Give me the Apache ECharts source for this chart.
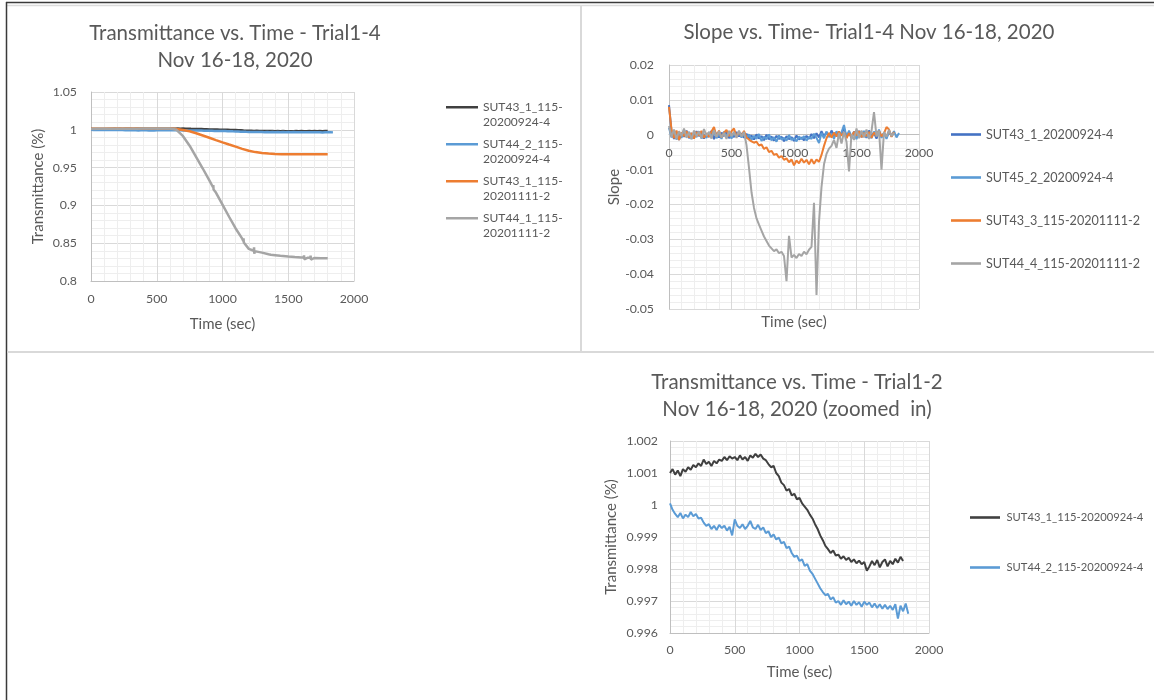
<!DOCTYPE html>
<html><head><meta charset="utf-8">
<script src="https://cdn.jsdelivr.net/npm/echarts@6/dist/echarts.min.js"></script>
<style>html,body{margin:0;padding:0;background:#fff;}#c{width:1154px;height:700px;}</style>
</head><body><div id="c"></div>
<script>
// ---------- DATA ----------
const T20 = [0,20,40,60,80,100,120,140,160,180,
  200,220,240,260,280,300,320,340,360,380,
  400,420,440,460,480,500,520,540,560,580,
  600,620,640,660,680,700,720,740,760,780,
  800,820,840,860,880,900,920,940,960,980,
  1000,1020,1040,1060,1080,1100,1120,1140,1160,1180,
  1200,1220,1240,1260,1280,1300,1320,1340,1360,1380,
  1400,1420,1440,1460,1480,1500,1520,1540,1560,1580,
  1600,1620,1640,1660,1680,1700,1720,1740,1760,1780,
  1800,1820,1840];
const T50 = [0,50,100,150,200,250,300,350,400,450,500,550,600,650,700,750,800,850,900,950,
  1000,1050,1100,1150,1200,1250,1300,1350,1400,1450,1500,1550,1600,1650,1700,1750,1800];

// SUT43_1_115-20200924-4 transmittance
const trans43_1 = [1.00100,1.00112,1.00095,1.00108,1.00090,1.00112,1.00104,1.00118,1.00110,1.00125,
  1.00118,1.00130,1.00122,1.00142,1.00128,1.00135,1.00122,1.00138,1.00130,1.00142,
  1.00138,1.00150,1.00140,1.00152,1.00145,1.00150,1.00140,1.00155,1.00142,1.00150,
  1.00138,1.00155,1.00148,1.00160,1.00150,1.00158,1.00145,1.00140,1.00128,1.00118,
  1.00122,1.00100,1.00090,1.00070,1.00062,1.00045,1.00050,1.00030,1.00035,1.00018,
  1.00022,1.00005,0.99995,0.99985,0.99970,0.99958,0.99940,0.99925,0.99905,0.99890,
  0.99872,0.99862,0.99850,0.99858,0.99842,0.99845,0.99832,0.99840,0.99828,0.99835,
  0.99822,0.99830,0.99818,0.99826,0.99815,0.99822,0.99795,0.99808,0.99825,0.99812,
  0.99828,0.99805,0.99822,0.99830,0.99808,0.99825,0.99815,0.99832,0.99820,0.99838,
  0.99825];
// SUT44_2_115-20200924-4 transmittance
const trans44_2 = [1.00005,0.99985,0.99972,0.99962,0.99975,0.99958,0.99970,0.99962,0.99978,0.99965,
  0.99972,0.99958,0.99960,0.99945,0.99935,0.99940,0.99925,0.99935,0.99922,0.99938,
  0.99928,0.99935,0.99920,0.99932,0.99905,0.99955,0.99935,0.99928,0.99940,0.99925,
  0.99935,0.99950,0.99930,0.99925,0.99938,0.99922,0.99930,0.99912,0.99918,0.99900,
  0.99908,0.99892,0.99898,0.99880,0.99885,0.99865,0.99870,0.99850,0.99838,0.99842,
  0.99825,0.99830,0.99810,0.99815,0.99795,0.99785,0.99770,0.99755,0.99740,0.99728,
  0.99718,0.99722,0.99705,0.99712,0.99695,0.99700,0.99688,0.99702,0.99690,0.99698,
  0.99685,0.99700,0.99688,0.99696,0.99682,0.99698,0.99688,0.99695,0.99680,0.99692,
  0.99678,0.99690,0.99676,0.99688,0.99675,0.99685,0.99672,0.99690,0.99645,0.99685,
  0.99668,0.99692,0.99660];
// SUT43_1_115-20201111-2 transmittance (T50)
const trans43_1b = [1.0014,1.0015,1.0015,1.0016,1.0016,1.0016,1.0017,1.0017,1.0017,1.0017,
  1.0018,1.0018,1.0017,1.0012,0.9998,0.9980,0.9955,0.9925,0.9895,0.9864,
  0.9834,0.9805,0.9777,0.9748,0.9722,0.9705,0.9694,0.9686,0.9681,0.9678,
  0.9676,0.9675,0.9675,0.9675,0.9675,0.9675,0.9676];
// SUT44_1_115-20201111-2 transmittance
const trans44_1T = [0,50,100,150,200,250,300,350,400,450,500,550,600,650,700,750,800,850,900,928,
  930,932,934,950,1000,1050,1100,1150,1158,1160,1162,1200,1238,1240,1242,1244,1300,1350,1368,1370,
  1372,1400,1440,1442,1444,1450,1500,1550,1600,1618,1620,1622,1650,1668,1670,1672,1700,1750,1800];
const trans44_1 = [1.0012,1.0013,1.0013,1.0014,1.0014,1.0015,1.0015,1.0015,1.0016,1.0016,
  1.0016,1.0016,1.0016,1.0000,0.9915,0.9790,0.9640,0.9488,0.9330,0.9240,
  0.9270,0.9210,0.9235,0.9170,0.9010,0.8850,0.8695,0.8560,0.8530,0.8565,
  0.8510,0.8425,0.8400,0.8445,0.8360,0.8395,0.8375,0.8355,0.8348,0.8370,
  0.8328,0.8342,0.8334,0.8352,0.8316,0.8332,0.8325,0.8318,0.8312,0.8310,
  0.8338,0.8288,0.8308,0.8306,0.8336,0.8284,0.8305,0.8302,0.8300];

// Slope series (T20)
const slope43_1 = [0.0085,0.0010,-0.0012,0.0008,-0.0015,0.0005,-0.0006,0.0012,-0.0010,0.0004,
  -0.0008,0.0010,-0.0004,0.0007,-0.0011,0.0003,-0.0006,0.0011,-0.0013,0.0005,
  -0.0008,0.0006,-0.0004,0.0009,-0.0010,0.0002,-0.0007,0.0008,-0.0005,0.0004,
  -0.0009,0.0003,-0.0012,-0.0002,-0.0014,0.0001,-0.0011,-0.0004,-0.0016,0.0000,
  -0.0013,-0.0005,-0.0017,-0.0003,-0.0012,-0.0006,-0.0019,-0.0004,-0.0013,-0.0007,
  -0.0018,-0.0002,-0.0014,-0.0008,-0.0016,-0.0003,-0.0012,0.0002,-0.0010,0.0004,
  -0.0008,0.0010,-0.0005,0.0008,-0.0006,0.0012,-0.0003,0.0006,-0.0009,0.0004,
  0.0018,-0.0005,0.0007,-0.0010,0.0009,-0.0004,0.0011,-0.0007,0.0005,-0.0009,
  0.0012,-0.0003,0.0006,-0.0011,0.0009,-0.0006,0.0004,-0.0008,0.0010,-0.0004,
  0.0006];
const slope45_2 = [0.0020,-0.0008,0.0011,-0.0014,0.0006,-0.0009,0.0013,-0.0005,0.0008,-0.0012,
  0.0004,-0.0007,0.0010,-0.0011,0.0002,-0.0009,0.0007,-0.0004,0.0012,-0.0010,
  0.0003,-0.0012,0.0009,-0.0006,0.0005,-0.0011,0.0008,-0.0003,0.0006,-0.0008,
  0.0004,-0.0010,0.0001,-0.0015,-0.0003,-0.0012,0.0002,-0.0018,-0.0006,-0.0013,
  0.0001,-0.0016,-0.0007,-0.0020,-0.0002,-0.0014,-0.0009,-0.0017,-0.0001,-0.0015,
  -0.0010,-0.0019,-0.0005,-0.0013,-0.0004,-0.0017,-0.0006,-0.0012,0.0003,-0.0009,
  -0.0024,0.0005,-0.0010,0.0009,-0.0006,0.0004,-0.0012,0.0010,-0.0003,0.0007,
  0.0028,-0.0008,0.0012,-0.0005,0.0006,-0.0013,0.0008,-0.0002,0.0011,-0.0007,
  0.0005,-0.0010,0.0009,-0.0004,0.0015,-0.0009,0.0006,-0.0012,0.0008,-0.0003,
  0.0010,-0.0008,0.0005];
const slope43_3 = [0.0080,0.0015,-0.0010,0.0012,-0.0015,0.0006,-0.0004,0.0010,-0.0008,0.0005,
  -0.0011,0.0008,-0.0003,0.0011,-0.0009,0.0004,-0.0006,0.0009,0.0022,-0.0005,
  0.0012,-0.0008,0.0006,0.0014,-0.0004,0.0010,0.0018,-0.0006,0.0008,-0.0003,
  0.0011,-0.0008,-0.0014,-0.0019,-0.0023,-0.0020,-0.0031,-0.0028,-0.0041,-0.0036,
  -0.0050,-0.0046,-0.0058,-0.0055,-0.0066,-0.0061,-0.0072,-0.0068,-0.0079,-0.0071,
  -0.0088,-0.0074,-0.0082,-0.0069,-0.0080,-0.0072,-0.0085,-0.0070,-0.0083,-0.0071,
  -0.0078,-0.0058,-0.0032,-0.0010,0.0005,-0.0008,0.0006,-0.0005,0.0009,-0.0003,
  0.0007,-0.0010,0.0004,-0.0006,0.0008,-0.0002,0.0010,-0.0007,0.0005,-0.0004,
  0.0008,-0.0009,0.0006,-0.0003,0.0011,-0.0005,0.0004,0.0022,0.0015,-0.0006,
  0.0008];
const slope44_4 = [0.0025,-0.0006,0.0015,-0.0012,0.0010,-0.0004,0.0018,-0.0009,0.0007,-0.0013,
  0.0012,-0.0005,0.0009,-0.0010,0.0016,-0.0003,0.0008,-0.0011,0.0013,-0.0006,
  0.0010,-0.0008,0.0005,-0.0012,0.0011,-0.0004,0.0007,-0.0009,0.0012,-0.0005,
  0.0008,-0.0030,-0.0095,-0.0165,-0.0210,-0.0240,-0.0258,-0.0275,-0.0292,-0.0305,
  -0.0318,-0.0326,-0.0334,-0.0329,-0.0340,-0.0336,-0.0348,-0.0420,-0.0290,-0.0352,
  -0.0345,-0.0354,-0.0342,-0.0348,-0.0336,-0.0343,-0.0330,-0.0322,-0.0195,-0.0460,
  -0.0250,-0.0150,-0.0085,-0.0055,-0.0040,-0.0032,-0.0015,-0.0038,0.0005,-0.0025,
  0.0008,-0.0020,-0.0105,0.0002,-0.0015,0.0018,-0.0010,0.0012,-0.0008,0.0015,
  -0.0012,0.0010,0.0065,-0.0005,0.0012,-0.0100,0.0008,-0.0006,0.0014,-0.0004,
  0.0006];

const names1 = ['SUT43_1_115-\n20200924-4','SUT44_2_115-\n20200924-4','SUT43_1_115-\n20201111-2','SUT44_1_115-\n20201111-2'];
const names2 = ['SUT43_1_20200924-4','SUT45_2_20200924-4','SUT43_3_115-20201111-2','SUT44_4_115-20201111-2'];
const names3 = ['SUT43_1_115-20200924-4','SUT44_2_115-20200924-4'];
const titles = ['Transmittance vs. Time - Trial1-4\nNov 16-18, 2020','Slope vs. Time- Trial1-4 Nov 16-18, 2020','Transmittance vs. Time - Trial1-2\nNov 16-18, 2020 (zoomed  in)'];

// ---------- STYLE ----------
const FONT = 'Lato';
const TXT = '#595959', GRID_C = '#d9d9d9', MINOR_C = '#eeeeee', AXIS_C = '#bfbfbf';
const C_BLACK = '#404040', C_BLUE = '#5b9bd5', C_DBLUE = '#4472c4', C_ORANGE = '#ed7d31', C_GRAY = '#a5a5a5';
function zip(t, v) { return v.map((y, i) => [t[i], y]); }
const plainNum = v => String(v);

const ICON2 = 'path://M0,6 L32,6 L32,8.6 L0,8.6 Z M0,0 L0.01,0 L0.01,0.01 L0,0.01 Z M0,28.99 L0.01,28.99 L0.01,29 L0,29 Z';
const ICON1 = 'path://M0,0 L30,0 L30,2.6 L0,2.6 Z';

function xAx(i, gap, margin, offset) {
  return {type:'value', gridIndex:i, min:0, max:2000, interval:500, offset:offset,
    name:'Time (sec)', nameLocation:'middle', nameGap:gap,
    nameTextStyle:{fontFamily:FONT, fontSize:15, color:TXT},
    axisLine:{show:true, onZero:false, lineStyle:{color:AXIS_C, width:1}},
    axisTick:{show:false},
    axisLabel:{fontFamily:FONT, fontSize:12.3, color:TXT, margin:margin, formatter:plainNum},
    splitLine:{show:true, lineStyle:{color:GRID_C, width:1}},
    minorTick:{show:false, splitNumber:5},
    minorSplitLine:{show:true, lineStyle:{color:MINOR_C, width:1}}};
}
function yAx(i, min, max, interval, name, gap, margin) {
  return {type:'value', gridIndex:i, min:min, max:max, interval:interval,
    name:name, nameLocation:'middle', nameGap:gap,
    nameTextStyle:{fontFamily:FONT, fontSize:15, color:TXT},
    axisLine:{show:true, onZero:false, lineStyle:{color:AXIS_C, width:1}},
    axisTick:{show:false},
    axisLabel:{fontFamily:FONT, fontSize:12.3, color:TXT, margin:margin, formatter:plainNum},
    splitLine:{show:true, lineStyle:{color:GRID_C, width:1}},
    minorTick:{show:false, splitNumber:5},
    minorSplitLine:{show:true, lineStyle:{color:MINOR_C, width:1}}};
}
function ser(name, i, data, color, width) {
  return {type:'line', name:name, xAxisIndex:i, yAxisIndex:i, data:data,
    symbol:'none', showSymbol:false, color:color, itemStyle:{color:color},
    lineStyle:{color:color, width:width}, z:3};
}
function title(text, cx, top) {
  return {text:text, left:cx, top:top, textAlign:'center', padding:0,
    textStyle:{fontFamily:FONT, fontSize:20.5, fontWeight:'normal', color:TXT, lineHeight:27}};
}
function legend(data, left, top, gap, icon, w, h, lh, fs) {
  return {data:data, orient:'vertical', left:left, top:top, itemGap:gap, icon:icon,
    itemWidth:w, itemHeight:h, selectedMode:false, padding:0,
    itemStyle:{borderWidth:0},
    textStyle:{fontFamily:FONT, fontSize:fs, color:TXT, lineHeight:lh}};
}

const option = {
  animation:false,
  backgroundColor:'#ffffff',
  textStyle:{fontFamily:FONT},
  title:[title(titles[0], 235, 20), title(titles[1], 869, 19), title(titles[2], 797, 369)],
  grid:[
    {left:91, top:92, width:263, height:189},
    {left:669, top:65, width:250, height:244},
    {left:670, top:441, width:259, height:192}
  ],
  xAxis:[xAx(0, 36, 12, 0), xAx(1, 180, 12, -174.3), xAx(2, 32, 11, 0)],
  yAxis:[
    yAx(0, 0.8, 1.05, 0.05, 'Transmittance (%)', 45, 14),
    yAx(1, -0.05, 0.02, 0.01, 'Slope', 45, 15),
    yAx(2, 0.996, 1.002, 0.001, 'Transmittance (%)', 51, 12)
  ],
  legend:[
    legend(names1, 446, 100, 8, ICON2, 32, 29, 14.5, 12),
    legend(names2, 951, 127, 28, ICON1, 30, 2.6, 15, 12.6),
    legend(names3, 970, 510, 35, ICON1, 33, 2.6, 15, 11.2)
  ],
  series:[
    ser(names1[0], 0, zip(T20, trans43_1), C_BLACK, 2.5),
    ser(names1[1], 0, zip(T20, trans44_2), C_BLUE, 2.5),
    ser(names1[2], 0, zip(T50, trans43_1b), C_ORANGE, 2.5),
    ser(names1[3], 0, zip(trans44_1T, trans44_1), C_GRAY, 2.5),
    ser(names2[0], 1, zip(T20, slope43_1), C_DBLUE, 2),
    ser(names2[1], 1, zip(T20, slope45_2), C_BLUE, 2),
    ser(names2[2], 1, zip(T20, slope43_3), C_ORANGE, 2),
    ser(names2[3], 1, zip(T20, slope44_4), C_GRAY, 2),
    ser(names3[0], 2, zip(T20, trans43_1), C_BLACK, 2),
    ser(names3[1], 2, zip(T20, trans44_2), C_BLUE, 2)
  ],
  graphic:[
    {type:'line', silent:true, shape:{x1:6, y1:2.5, x2:1154, y2:2.5}, style:{stroke:'#3a3a3a', lineWidth:1.5}},
    {type:'line', silent:true, shape:{x1:7, y1:5.5, x2:1154, y2:5.5}, style:{stroke:'#dcdcdc', lineWidth:1.5}},
    {type:'line', silent:true, shape:{x1:6.5, y1:2, x2:6.5, y2:700}, style:{stroke:'#3a3a3a', lineWidth:1.5}},
    {type:'line', silent:true, shape:{x1:581, y1:6, x2:581, y2:352}, style:{stroke:'#d9d9d9', lineWidth:2}},
    {type:'line', silent:true, shape:{x1:7, y1:352, x2:1154, y2:352}, style:{stroke:'#d9d9d9', lineWidth:2}}
  ]
};
const chart = echarts.init(document.getElementById('c'), null, {renderer:'canvas'});
chart.setOption(option);
</script></body></html>
